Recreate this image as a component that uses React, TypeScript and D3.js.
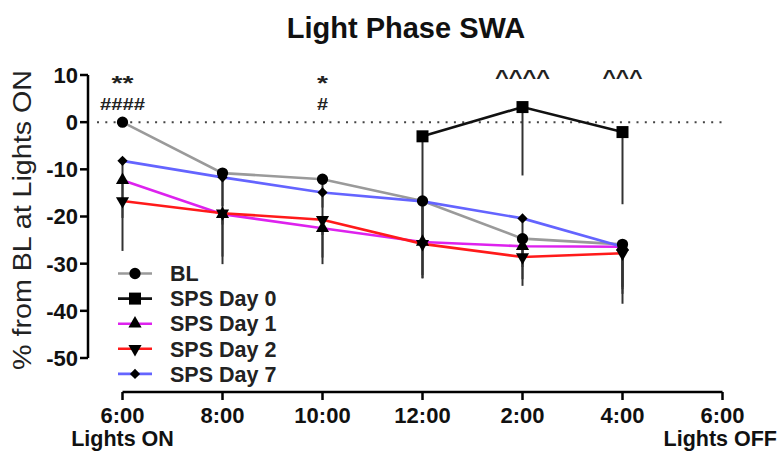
import React from 'react'
import * as d3 from 'd3'

const W = 783
const H = 453
const FONT = 'Liberation Sans, Arial, sans-serif'

// hours after lights ON
const HOURS = [0, 2, 4, 6, 8, 10]
const TICK_HOURS = [0, 2, 4, 6, 8, 10, 12]
const TICK_LABELS = ['6:00', '8:00', '10:00', '12:00', '2:00', '4:00', '6:00']
const Y_TICKS = [10, 0, -10, -20, -30, -40, -50]

const BL = [0, -10.8, -12.1, -16.7, -24.7, -25.9]
const DAY0 = [null, null, null, -3.0, 3.2, -2.1]
const DAY1 = [-12.3, -19.5, -22.5, -25.4, -26.3, -26.4]
const DAY2 = [-16.7, -19.3, -20.7, -25.8, -28.6, -27.8]
const DAY7 = [-8.2, -11.7, -14.9, -16.8, -20.4, -26.4]

// error bars drawn below the mean only
const BL_ERR = [0, 7, 6, 8, 6, 9]
const DAY0_ERR = [null, null, null, 30.1, 14.5, 15.3]
const DAY1_ERR = [8, 9, 7.6, 7, 7, 10]
const DAY2_ERR = [10.6, 10.8, 8, 7.3, 6.1, 10.7]
const DAY7_ERR = [9, 10, 9, 10, 9, 9]

const SERIES = [
  { name: 'BL', values: BL, err: BL_ERR, color: '#9a9a9a', marker: 'circle' },
  { name: 'SPS Day 0', values: DAY0, err: DAY0_ERR, color: '#111111', marker: 'square' },
  { name: 'SPS Day 1', values: DAY1, err: DAY1_ERR, color: '#dd22ee', marker: 'up' },
  { name: 'SPS Day 2', values: DAY2, err: DAY2_ERR, color: '#ff1a1a', marker: 'down' },
  { name: 'SPS Day 7', values: DAY7, err: DAY7_ERR, color: '#6464ff', marker: 'diamond' },
]

const ANNOTATIONS = [
  { hour: 0, text: '**', y: 90, size: 20, len: 22 },
  { hour: 0, text: '####', y: 110, size: 16, len: 45 },
  { hour: 4, text: '*', y: 90, size: 20, len: 11 },
  { hour: 4, text: '#', y: 110, size: 16, len: 11 },
  { hour: 8, text: '^^^^', y: 84, size: 20, len: 55 },
  { hour: 10, text: '^^^', y: 84, size: 20, len: 40 },
]

const x = d3.scaleLinear().domain([0, 12]).range([122.5, 722.5])
const y = d3.scaleLinear().domain([-50, 10]).range([358, 75])

function Marker({ type, cx, cy }: { type: string; cx: number; cy: number }) {
  let path = ''
  let rot = 0
  if (type === 'circle') path = d3.symbol(d3.symbolCircle, 100)() as string
  else if (type === 'square') path = d3.symbol(d3.symbolSquare, 144)() as string
  else if (type === 'up') path = d3.symbol(d3.symbolTriangle, 75)() as string
  else if (type === 'down') { path = d3.symbol(d3.symbolTriangle, 75)() as string; rot = 180 }
  else { path = d3.symbol(d3.symbolSquare, 52)() as string; rot = 45 }
  return <path d={path} transform={`translate(${cx},${cy}) rotate(${rot})`} fill="#000" />
}

export default function App() {
  const line = d3.line<{ h: number; v: number }>().x(d => x(d.h)).y(d => y(d.v))
  const pts = (vals: (number | null)[]) =>
    HOURS.map((h, i) => ({ h, v: vals[i] })).filter(d => d.v !== null) as { h: number; v: number }[]

  const legendY = (i: number) => 273.5 + i * 25.1

  return (
    <svg width={W} height={H} style={{ position: 'absolute', left: 0, top: 0, background: '#fff' }} fontFamily={FONT}>
      <text x={406} y={38} textAnchor="middle" fontSize={29} fontWeight="bold" fill="#111">Light Phase SWA</text>

      {/* y label */}
      <text transform="translate(31,220) rotate(-90)" textAnchor="middle" fontSize={26} fill="#222"
        textLength={300} lengthAdjust="spacingAndGlyphs">% from BL at Lights ON</text>

      {/* y axis */}
      <line x1={88} x2={88} y1={y(10)} y2={y(-50)} stroke="#000" strokeWidth={2.5} />
      {Y_TICKS.map(t => (
        <g key={t} transform={`translate(0,${y(t)})`}>
          <line x1={80} x2={88} stroke="#000" strokeWidth={2.5} />
          <text x={78} dy="0.36em" textAnchor="end" fontSize={22} fontWeight="bold" fill="#111">{t}</text>
        </g>
      ))}

      {/* x axis */}
      <line x1={x(0)} x2={x(12)} y1={392} y2={392} stroke="#000" strokeWidth={2.5} />
      {TICK_HOURS.map((h, i) => (
        <g key={i} transform={`translate(${x(h)},392)`}>
          <line y1={0} y2={8} stroke="#000" strokeWidth={2.5} />
          <text y={31} textAnchor="middle" fontSize={22} fontWeight="bold" fill="#111">{TICK_LABELS[i]}</text>
        </g>
      ))}
      <text x={x(0)} y={446} textAnchor="middle" fontSize={21.5} fontWeight="bold" fill="#111">Lights ON</text>
      <text x={777} y={446} textAnchor="end" fontSize={21.5} fontWeight="bold" fill="#111">Lights OFF</text>

      {/* zero line */}
      <line x1={97} x2={724} y1={y(0)} y2={y(0)} stroke="#444" strokeWidth={2} strokeDasharray="2,6.3" />

      {/* error bars */}
      {SERIES.map(s =>
        HOURS.map((h, i) => {
          const v = s.values[i]
          const e = s.err[i]
          if (v === null || e === null || e === 0) return null
          return <line key={s.name + i} x1={x(h)} x2={x(h)} y1={y(v)} y2={y(v - e)} stroke="#333" strokeWidth={2} />
        })
      )}

      {/* lines */}
      {SERIES.map(s => (
        <path key={s.name} d={line(pts(s.values)) as string} fill="none" stroke={s.color} strokeWidth={2.6} />
      ))}

      {/* markers */}
      {SERIES.map(s =>
        pts(s.values).map(d => <Marker key={s.name + d.h} type={s.marker} cx={x(d.h)} cy={y(d.v)} />)
      )}

      {/* significance */}
      {ANNOTATIONS.map((a, i) => (
        <text key={i} x={x(a.hour)} y={a.y} textAnchor="middle" fontSize={a.size} fontWeight="bold" fill="#222"
          textLength={a.len} lengthAdjust="spacingAndGlyphs">{a.text}</text>
      ))}

      {/* legend */}
      {SERIES.map((s, i) => (
        <g key={s.name} transform={`translate(0,${legendY(i)})`}>
          <line x1={118} x2={152} stroke={s.color} strokeWidth={2.6} />
          <Marker type={s.marker} cx={135} cy={0} />
          <text x={170} dy="0.36em" fontSize={21.5} fontWeight="bold" fill="#222">{s.name}</text>
        </g>
      ))}
    </svg>
  )
}
